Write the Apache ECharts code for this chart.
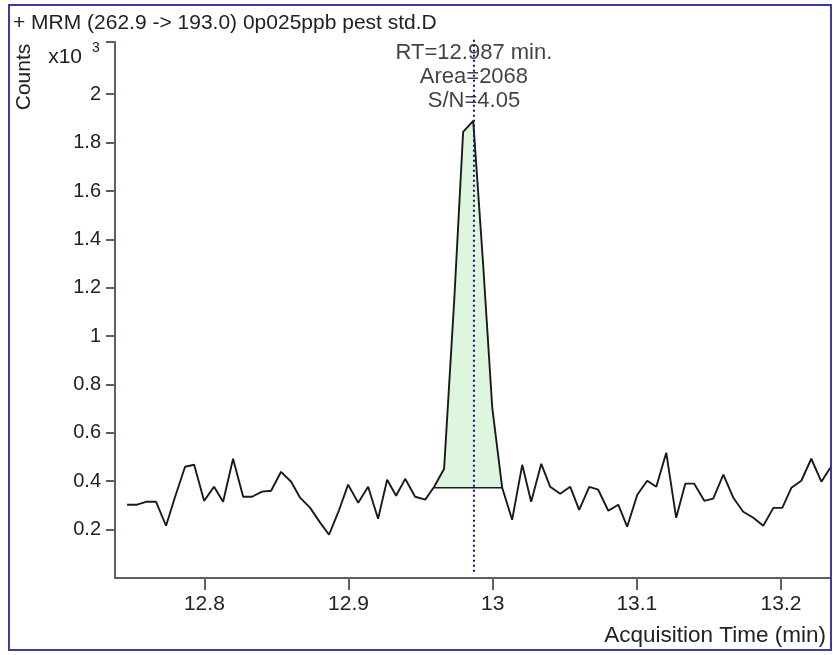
<!DOCTYPE html>
<html><head><meta charset="utf-8">
<script src="https://cdn.jsdelivr.net/npm/echarts@6/dist/echarts.min.js"></script>
<style>html,body{margin:0;padding:0;background:#fff}#c{width:833px;height:655px}</style>
</head><body><div id="c"></div>
<script>
const titleText = '+ MRM (262.9 -> 193.0) 0p025ppb pest std.D';
const xAxisTitle = 'Acquisition Time (min)';
const yAxisTitle = 'Counts';

const times = [
  12.7464, 12.7533, 12.7595, 12.7665, 12.7734, 12.7797, 12.7866, 12.7929, 12.7998, 12.8067,
  12.8130, 12.8199, 12.8269, 12.8331, 12.8400, 12.8463, 12.8532, 12.8602, 12.8664, 12.8734,
  12.8803, 12.8865, 12.8935, 12.8997, 12.9067, 12.9136, 12.9205, 12.9268, 12.9330, 12.9393,
  12.9462, 12.9532, 12.9594, 12.9663, 12.9733, 12.9795, 12.9865, 12.9934, 12.9997, 13.0066,
  13.0135, 13.0205, 13.0267, 13.0337, 13.0399, 13.0468, 13.0538, 13.0600, 13.0670, 13.0732,
  13.0802, 13.0871, 13.0933, 13.1003, 13.1072, 13.1135, 13.1204, 13.1273, 13.1336, 13.1398,
  13.1468, 13.1530, 13.1600, 13.1669, 13.1738, 13.1808, 13.1877, 13.1947, 13.2009, 13.2072,
  13.2141, 13.2210, 13.2280, 13.2342
];
const counts = [
  303, 303, 315, 315, 216, 336, 460, 468, 319, 377,
  315, 493, 336, 336, 357, 361, 439, 398, 332, 290,
  229, 179, 282, 386, 311, 377, 245, 406, 340, 410,
  336, 324, 377, 452, 1146, 1844, 1890, 1295, 704, 373,
  241, 468, 315, 472, 377, 348, 377, 282, 377, 365,
  278, 303, 212, 344, 402, 377, 518, 249, 390, 390,
  319, 328, 427, 332, 274, 249, 216, 290, 290, 373,
  402, 493, 398, 456
];
const peakStartIndex = 32;
const peakEndIndex = 39;
const baselineCounts = 373;
const retentionTime = 12.987;
const peakLabels = ['RT=12.987 min.', 'Area=2068', 'S/N=4.05'];
const xTicks = [12.8, 12.9, 13.0, 13.1, 13.2];
const yTicks = [200, 400, 600, 800, 1000, 1200, 1400, 1600, 1800, 2000];
const xRange = [12.738, 13.234];
const yRange = [0, 2216];
const rtLineRange = [26, 2232];
const labelAnchorCounts = 2072;

const FONT = '"Liberation Sans", Arial, sans-serif';
const textColor = '#222';
const axisColor = '#58616c';

const trace = times.map((t, i) => [t, counts[i]]);
const peak = trace.slice(peakStartIndex, peakEndIndex + 1);
const baseline = [[times[peakStartIndex], baselineCounts], [times[peakEndIndex], baselineCounts]];

const chart = echarts.init(document.getElementById('c'), null, {renderer: 'canvas'});
chart.setOption({
  animation: false,
  backgroundColor: '#fff',
  textStyle: {fontFamily: FONT},
  grid: {left: 115, right: 3, top: 42, bottom: 77, containLabel: false},
  graphic: [
    {type: 'rect', shape: {x: 9, y: 5, width: 822, height: 645}, style: {fill: 'none', stroke: '#3b3ba0', lineWidth: 2}, silent: true, z: 100},
    {type: 'text', x: 13, y: 23, style: {text: titleText, font: '21px ' + FONT, fill: textColor, verticalAlign: 'middle'}},
    {type: 'text', x: 24, y: 77, rotation: Math.PI / 2, style: {text: yAxisTitle, font: '21px ' + FONT, fill: textColor, align: 'center', verticalAlign: 'middle'}},
    {type: 'text', x: 82, y: 57, style: {text: 'x10', font: '21px ' + FONT, fill: textColor, align: 'right', verticalAlign: 'middle'}},
    {type: 'text', x: 96, y: 48, style: {text: '3', font: '14px ' + FONT, fill: textColor, align: 'center', verticalAlign: 'middle'}},
    {type: 'text', x: 826, y: 636, style: {text: xAxisTitle, font: '22.5px ' + FONT, fill: textColor, align: 'right', verticalAlign: 'middle'}}
  ],
  xAxis: {
    type: 'value', min: xRange[0], max: xRange[1],
    axisLine: {show: true, onZero: false, lineStyle: {color: axisColor, width: 2}},
    axisTick: {show: true, length: 12, customValues: xTicks, lineStyle: {color: axisColor, width: 2}},
    axisLabel: {show: true, customValues: xTicks, margin: 16, fontSize: 21, color: textColor, fontFamily: FONT,
      formatter: v => String(+v.toFixed(1))},
    splitLine: {show: false}
  },
  yAxis: {
    type: 'value', min: yRange[0], max: yRange[1],
    axisLine: {show: true, lineStyle: {color: axisColor, width: 2}},
    axisTick: {show: true, length: 9, customValues: yTicks.concat([yRange[1]]), lineStyle: {color: axisColor, width: 2}},
    axisLabel: {show: true, customValues: yTicks, margin: 14, fontSize: 20, color: textColor, fontFamily: FONT,
      formatter: v => String(+(v / 1000).toFixed(1))},
    splitLine: {show: false}
  },
  series: [
    {
      name: 'peakFill', type: 'line', data: peak, symbol: 'none', silent: true,
      lineStyle: {width: 0, opacity: 0},
      areaStyle: {color: '#ddf6dd', opacity: 1, origin: baselineCounts},
      z: 1
    },
    {
      name: 'baseline', type: 'line', data: baseline, symbol: 'none', silent: true,
      lineStyle: {color: '#1a1a1a', width: 1.6}, z: 3
    },
    {
      name: 'trace', type: 'line', data: trace, symbol: 'none', silent: true,
      lineStyle: {color: '#1a1a1a', width: 1.9}, z: 4
    },
    {
      name: 'rt', type: 'line', data: [[retentionTime, rtLineRange[0]], [retentionTime, rtLineRange[1]]],
      symbol: 'none', silent: true, clip: false,
      lineStyle: {color: '#10108a', width: 2, type: [2, 3]}, z: 5
    },
    {
      name: 'rtLabel', type: 'scatter', data: [[retentionTime, labelAnchorCounts]], symbolSize: 0, silent: true,
      label: {show: true, position: 'inside', formatter: peakLabels.join('\n'), fontSize: 22, lineHeight: 24,
        color: '#111', fontFamily: FONT, align: 'center', verticalAlign: 'middle'},
      z: 6
    }
  ]
});
</script></body></html>
